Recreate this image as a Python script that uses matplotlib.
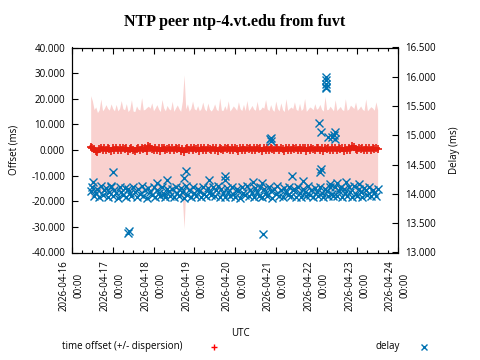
import matplotlib
matplotlib.use("Agg")
import matplotlib.pyplot as plt
import matplotlib.dates as mdates
from matplotlib.lines import Line2D
import pandas as pd
import numpy as np

# =========================
# DATA
# =========================
start = "2026-04-16 11:00"   # first sample, hourly after that

# time offset (ms)
offset = [
    1.2, 0.7, 0.4, -0.4, -0.7, 0.2, 0.9, 0.1, 0.6, -0.1, 0.8, 0.3, -0.2, 0.7, 0.1, 0.9, -0.1, 0.6, 0.0, 0.8, 0.2, 0.7, -0.2, 0.5,
    0.8, -0.1, -0.5, 0.2, 0.7, 0.0, 0.9, 0.2, 0.6, -0.2, 1.6, 1.1, 0.4, -0.1, 0.8, 0.1, 0.7, -0.2, 0.6, 0.9, -0.1, 0.5, 0.8, 0.0,
    0.6, -0.1, 0.9, 0.3, 0.7, -0.2, 0.2, -0.7, 0.5, 0.9, 0.0, 0.7, -0.1, 0.8, 0.2, 0.6, -0.2, 0.9, 0.1, 0.7, -0.1, 0.8, 0.3, 0.0,
    0.8, 0.1, 0.6, -0.2, 0.9, 0.3, -0.1, 0.7, 0.2, 0.9, -0.1, 0.6, 0.0, 0.8, 0.3, -0.2, 0.7, 0.1, 0.9, -0.1, 0.6, 0.2, 0.8, 0.0,
    0.7, -0.1, 0.9, 0.2, 0.6, -0.2, 0.8, 0.1, 0.7, 0.0, 0.9, 0.2, -0.1, 0.6, 0.8, 0.0, 0.7, 0.3, -0.2, 0.9, 0.1, 0.6, -0.1, 0.8,
    0.2, 0.7, -0.1, 0.9, 0.0, 0.6, 0.8, -0.2, 0.7, 0.1, 0.9, 0.3, -0.1, 0.6, 0.8, 0.0, 0.7, -0.2, 0.9, 0.2, 0.6, 0.0, 0.8, 0.1,
    0.7, -0.1, 0.9, 0.2, 0.6, -0.2, 0.8, 0.1, 0.7, 0.0, 1.4, 1.0, 0.3, -0.1, 0.8, 0.2, 0.6, -0.1, 0.9, 0.1, 0.7, 0.0, 0.8, 0.2,
    0.6, 0.3,
]

# dispersion (ms)
dispersion = [
    20.0, 18.5, 15.4, 17.2, 15.3, 15.5, 19.0, 15.2, 15.6, 17.8, 15.4, 15.3, 18.2, 15.5, 15.2, 16.9, 15.4, 15.6, 19.3, 15.3, 15.5, 17.4, 15.2, 15.4,
    18.8, 15.3, 15.5, 17.0, 15.2, 15.6, 19.5, 15.4, 15.3, 16.8, 15.5, 15.2, 18.0, 15.4, 15.6, 17.6, 15.3, 15.2, 19.1, 15.5, 15.4, 16.9, 15.3, 15.6,
    18.4, 15.2, 15.5, 17.3, 15.4, 15.3, 18.9, 30.0, 15.5, 17.1, 15.2, 15.6, 19.2, 15.3, 15.4, 16.7, 15.5, 15.2, 18.6, 15.4, 15.3, 17.5, 15.6, 15.2,
    15.4, 17.9, 15.3, 15.5, 19.4, 15.2, 15.6, 16.6, 15.4, 18.3, 15.3, 15.5, 17.2, 15.6, 15.2, 19.0, 15.4, 15.3, 16.9, 15.5, 18.7, 15.2, 15.4, 17.4,
    15.3, 15.6, 18.1, 15.4, 15.2, 17.0, 15.5, 19.6, 15.3, 15.4, 16.8, 15.6, 15.2, 18.5, 15.4, 15.3, 17.7, 15.5, 15.2, 19.1, 15.4, 15.6, 16.9, 15.3,
    18.6, 15.2, 15.5, 17.3, 15.4, 15.6, 19.3, 15.3, 15.2, 16.7, 15.5, 15.4, 18.2, 15.3, 15.6, 17.8, 15.2, 15.4, 20.0, 15.5, 15.3, 17.1, 15.4, 15.2,
    18.9, 15.5, 15.3, 16.8, 15.2, 15.6, 19.2, 15.4, 15.3, 17.5, 15.5, 15.2, 18.4, 15.6, 15.4, 17.0, 15.3, 15.5, 19.0, 15.2, 15.4, 16.9, 15.6, 15.3,
    18.2, 15.4,
]

# delay (ms), main band
delay = [
    14.05, 14.12, 13.96, 14.01, 14.09, 13.94, 14.13, 13.99, 14.06, 14.10, 13.95, 14.03, 14.11, 13.97, 14.07, 14.02, 13.93, 14.12, 14.04, 13.98, 14.10, 13.95, 14.08, 14.01,
    13.96, 14.11, 14.03, 13.94, 14.09, 14.00, 14.13, 13.97, 14.06, 13.93, 14.10, 14.04, 13.98, 14.12, 13.95, 14.07, 14.02, 13.96, 14.11, 14.00, 13.94, 14.09, 14.05, 13.97,
    14.08, 13.95, 14.12, 14.01, 13.96, 14.10, 14.04, 13.93, 14.13, 13.99, 14.07, 13.95, 14.11, 14.02, 13.97, 14.09, 14.05, 13.94, 14.12, 14.00, 13.96, 14.10, 14.03, 13.98,
    14.11, 13.96, 14.06, 14.13, 13.95, 14.08, 14.01, 13.94, 14.10, 14.03, 13.97, 14.12, 14.00, 13.95, 14.09, 14.05, 13.93, 14.11, 14.02, 13.98, 14.13, 13.96, 14.07, 14.01,
    13.95, 14.10, 14.04, 13.97, 14.12, 13.94, 14.08, 14.02, 13.96, 14.11, 14.05, 13.93, 14.09, 14.00, 14.13, 13.97, 14.06, 13.95, 14.10, 14.03, 13.98, 14.12, 13.96, 14.07,
    14.09, 13.95, 14.11, 14.02, 13.94, 14.08, 14.04, 13.97, 14.13, 13.99, 14.06, 13.95, 14.10, 14.03, 13.96, 14.12, 14.01, 13.94, 14.09, 14.05, 13.97, 14.11, 14.00, 13.96,
    14.12, 13.97, 14.05, 14.10, 13.94, 14.08, 14.02, 13.96, 14.11, 14.04, 13.95, 14.13, 14.00, 13.97, 14.09, 14.03, 13.94, 14.10, 14.06, 13.98, 14.12, 13.96, 14.07, 14.01,
    13.97, 14.09,
]

# delay outliers (time, ms)
outlier_times = [
    "2026-04-16 12:30", "2026-04-16 23:00", "2026-04-17 00:15", "2026-04-17 08:50", "2026-04-17 09:20",
    "2026-04-18 02:10", "2026-04-18 08:10", "2026-04-18 18:10", "2026-04-18 19:10", "2026-04-19 08:40",
    "2026-04-19 18:00", "2026-04-19 18:10", "2026-04-20 10:20", "2026-04-20 15:40", "2026-04-20 16:40",
    "2026-04-20 20:40", "2026-04-20 21:00", "2026-04-20 21:10", "2026-04-21 09:50", "2026-04-21 16:00",
    "2026-04-22 01:40", "2026-04-22 02:40", "2026-04-22 02:40", "2026-04-22 02:20", "2026-04-22 05:30",
    "2026-04-22 05:30", "2026-04-22 05:40", "2026-04-22 05:50", "2026-04-22 05:40", "2026-04-22 07:00",
    "2026-04-22 09:00", "2026-04-22 10:40", "2026-04-22 10:20", "2026-04-22 11:00", "2026-04-22 08:00",
    "2026-04-22 12:00", "2026-04-22 17:30", "2026-04-23 01:00",
]
outlier_delay = [
    14.21, 14.14, 14.37, 13.34, 13.36,
    14.18, 14.24, 14.28, 14.39, 14.24,
    14.30, 14.23, 14.21, 14.19, 13.32,
    14.93, 14.95, 14.91, 14.31, 14.22,
    15.21, 15.06, 14.42, 14.37, 16.00,
    15.95, 15.88, 15.83, 15.80, 14.97,
    14.97, 15.06, 15.00, 14.94, 14.17,
    14.18, 14.20, 14.17,
]

# =========================
# PLOT
# =========================
red = "#e51e10"
blue = "#0072b2"
pink = "#f9d1cf"
font = "Open Sans"

times = pd.date_range(start, periods=len(offset), freq="1h")
off = np.array(offset)
disp = np.array(dispersion)

fig = plt.figure(figsize=(4.8, 3.6), dpi=100)
ax = fig.add_axes([72 / 480, 1 - 252.5 / 360, 326 / 480, 205 / 360])

ax.fill_between(times, off - disp, off + disp, color=pink, lw=0, zorder=1)
ax.plot(times, off, ls="-", lw=2.5, color=red, zorder=2)
ax.plot(times, off, ls="none", marker="+", color=red, ms=6, mew=1.2, zorder=3)

ax.set_xlim(pd.Timestamp("2026-04-16"), pd.Timestamp("2026-04-24"))
ax.set_ylim(-40, 40)
ax.set_yticks(np.arange(-40, 41, 10))
ax.yaxis.set_major_formatter(matplotlib.ticker.FormatStrFormatter("%.3f"))

ax.xaxis.set_major_locator(mdates.DayLocator())
ax.xaxis.set_minor_locator(mdates.HourLocator(byhour=[6, 12, 18]))
ax.xaxis.set_major_formatter(mdates.DateFormatter("%Y-%m-%d\n%H:%M"))

ax.tick_params(axis="x", which="both", direction="in", top=True, pad=5.5,
               labelsize=7, width=0.8)
ax.tick_params(axis="x", which="major", length=4)
ax.tick_params(axis="x", which="minor", length=2.5)
ax.tick_params(axis="y", direction="in", length=4, pad=5, labelsize=7, width=0.8)
for lab in ax.get_xticklabels():
    lab.set_rotation(90)
    lab.set_ha("center")
    lab.set_va("top")
    lab.set_family(font)
    lab.set_linespacing(1.5)
for lab in ax.get_yticklabels():
    lab.set_family(font)

ax2 = ax.twinx()
ax2.plot(times, delay, ls="none", marker="x", color=blue, ms=6, mew=1)
ax2.plot(pd.to_datetime(outlier_times), outlier_delay, ls="none", marker="x",
         color=blue, ms=6, mew=1)
ax2.set_ylim(13.0, 16.5)
ax2.set_yticks(np.arange(13.0, 16.51, 0.5))
ax2.yaxis.set_major_formatter(matplotlib.ticker.FormatStrFormatter("%.3f"))
ax2.tick_params(axis="y", direction="in", length=4, pad=5, labelsize=7, width=0.8)
for lab in ax2.get_yticklabels():
    lab.set_family(font)
ax2.set_xlim(pd.Timestamp("2026-04-16"), pd.Timestamp("2026-04-24"))

for a in (ax, ax2):
    for s in a.spines.values():
        s.set_linewidth(0.8)

fig.text(235 / 480, 1 - 22 / 360, "NTP peer ntp-4.vt.edu from fuvt", ha="center",
         va="center", family="Liberation Serif", weight="bold", fontsize=11.5)
fig.text(14 / 480, 1 - 150 / 360, "Offset (ms)", rotation=90, ha="center", va="center",
         family=font, fontsize=7)
fig.text(455 / 480, 1 - 150 / 360, "Delay (ms)", rotation=90, ha="center", va="center",
         family=font, fontsize=7)
fig.text(240 / 480, 1 - 334 / 360, "UTC", ha="center", va="center", family=font, fontsize=7)

# legend
fig.text(62 / 480, 1 - 346.5 / 360, "time offset (+/- dispersion)", ha="left", va="center",
         family=font, fontsize=7)
fig.add_artist(Line2D([214 / 480], [1 - 346.5 / 360], marker="+", color="#ff0000", ms=5, mew=1,
                      transform=fig.transFigure))
fig.text(376 / 480, 1 - 346.5 / 360, "delay", ha="left", va="center", family=font, fontsize=7)
fig.add_artist(Line2D([424 / 480], [1 - 346.5 / 360], marker="x", color=blue, ms=5, mew=1,
                      transform=fig.transFigure))

fig.savefig("out.png", dpi=100)
